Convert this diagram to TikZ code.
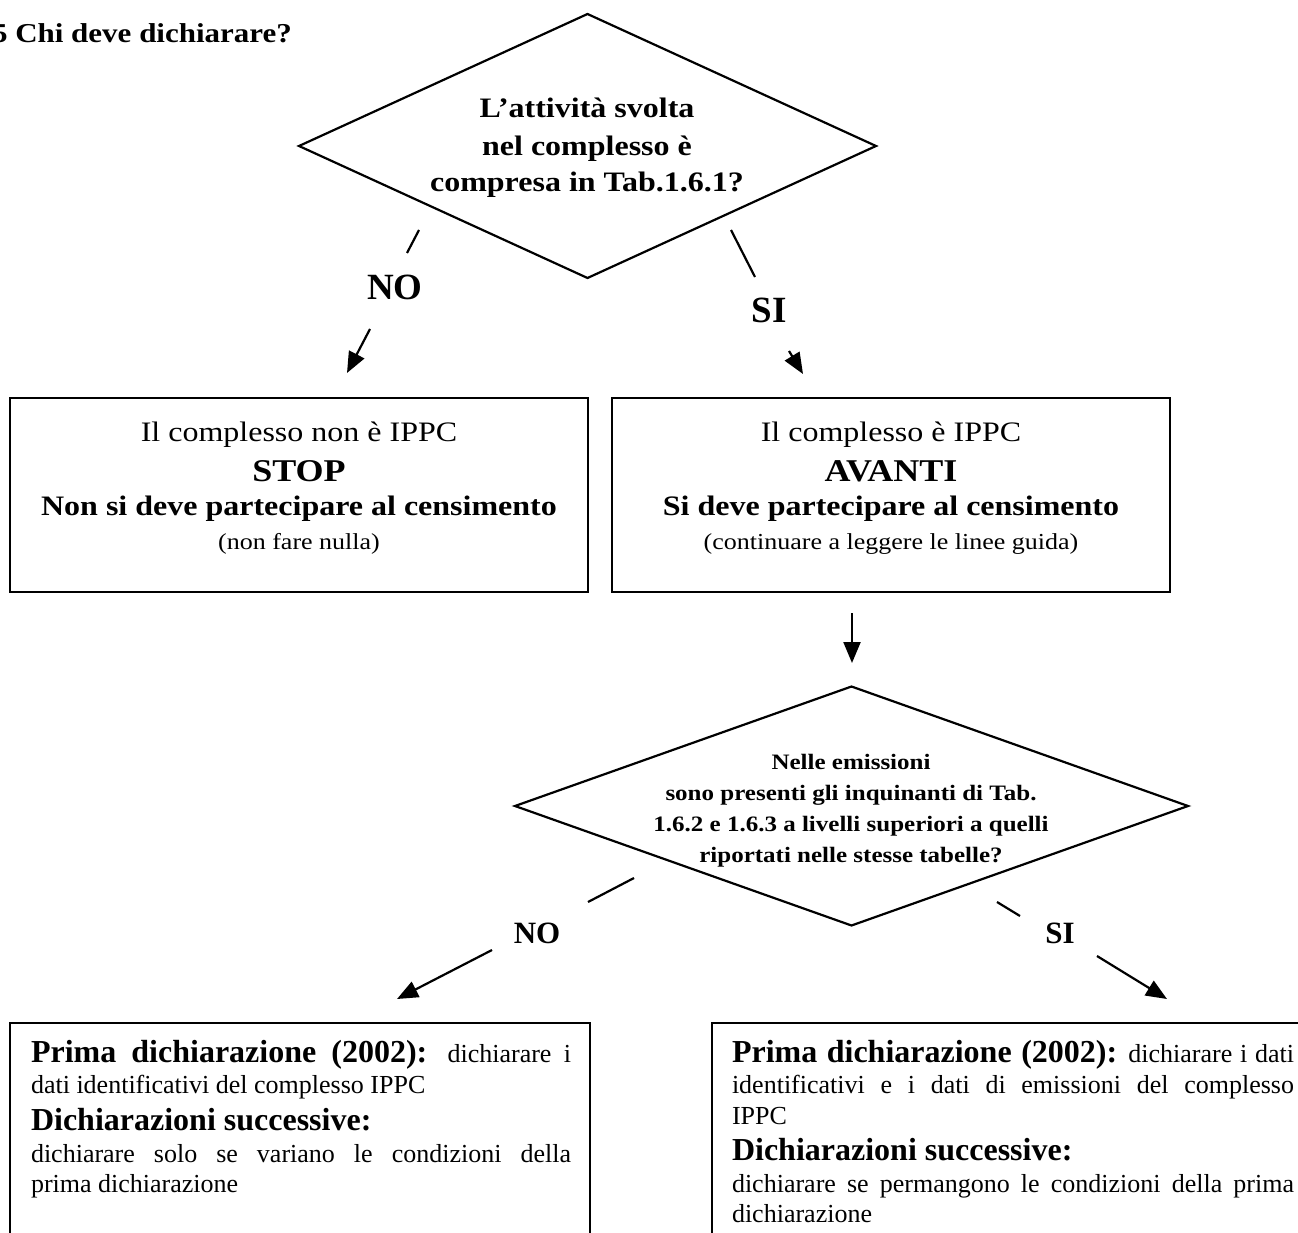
\documentclass[tikz,border=0pt]{standalone}
\usepackage{fontspec}
\usepackage{graphicx}
\setmainfont{Liberation Serif}
\usetikzlibrary{arrows.meta,shapes.geometric}
\newcommand\fszTitle{\normalfont\fontsize{31}{36}\selectfont\bfseries}
\newcommand\fszQ{\normalfont\fontsize{32}{38}\selectfont\bfseries}
\newcommand\fszQs{\normalfont\fontsize{25}{30}\selectfont\bfseries}
\newcommand\fszReg{\normalfont\fontsize{32}{38}\selectfont}
\newcommand\fszBig{\normalfont\fontsize{36}{42}\selectfont\bfseries}
\newcommand\fszSmall{\normalfont\fontsize{26}{31}\selectfont}
\newcommand\fszLab{\normalfont\fontsize{37}{44}\selectfont\bfseries}
\newcommand\fszLabs{\normalfont\fontsize{31}{37}\selectfont\bfseries}
\newcommand\fszHead{\normalfont\fontsize{32}{38}\selectfont\bfseries}
\newcommand\sqz[1]{\scalebox{1}[0.88]{#1}}
\begin{document}
\begin{tikzpicture}[x=1pt,y=-1pt,
  ln/.style={line width=2.2pt},
  tx/.style={inner sep=0pt,outer sep=0pt,anchor=base},
  txl/.style={inner sep=0pt,outer sep=0pt,anchor=base west},
  decision/.style={diamond,draw,ln,inner sep=0pt,outer sep=0pt},
  panel/.style={rectangle,draw,ln,inner sep=0pt,outer sep=0pt,minimum height=194pt},
  arr/.style={ln,-{Triangle[length=21pt,width=17pt]}},
  stub/.style={ln}
]
\useasboundingbox (0,0) rectangle (1298,1233);
\fill[white] (0,0) rectangle (1298,1233);

% title
\node[txl] (title) at (-8,43) {\sqz{\fszTitle 5 Chi deve dichiarare?}};

% first decision
\node[decision,minimum width=577pt,minimum height=264pt] (q1) at (587.5,146) {};
\node[tx] (q1a) at (587,118) {\sqz{\fszQ L’attività svolta}};
\node[tx] (q1b) at (587,156) {\sqz{\fszQ nel complesso è}};
\node[tx] (q1c) at (587,192) {\sqz{\fszQ compresa in Tab.1.6.1?}};

% first NO / SI
\coordinate (n1a) at (419,230);
\coordinate (n1b) at (407,253);
\coordinate (n1c) at (370,329);
\coordinate (n1d) at (347,373);
\draw[stub] (n1a) -- (n1b);
\node[tx] (no1) at (395,299) {\fszLab NO};
\draw[arr] (n1c) -- (n1d);

\coordinate (s1a) at (731,230);
\coordinate (s1b) at (755,277);
\coordinate (s1c) at (789,351);
\coordinate (s1d) at (803,374);
\draw[stub] (s1a) -- (s1b);
\node[tx] (si1) at (769,323) {\fszLab SI};
\draw[arr] (s1c) -- (s1d);

% boxes row 1
\node[panel,minimum width=578pt] (b1) at (299,495) {};
\node[tx] (b1a) at (299,441) {\sqz{\fszReg Il complesso non è IPPC}};
\node[tx] (b1b) at (299,481) {\sqz{\fszBig STOP}};
\node[tx] (b1c) at (299,515) {\sqz{\fszQ Non si deve partecipare al censimento}};
\node[tx] (b1d) at (299,549) {\sqz{\fszSmall (non fare nulla)}};

\node[panel,minimum width=558pt] (b2) at (891,495) {};
\node[tx] (b2a) at (891,441) {\sqz{\fszReg Il complesso è IPPC}};
\node[tx] (b2b) at (891,481) {\sqz{\fszBig AVANTI}};
\node[tx] (b2c) at (891,515) {\sqz{\fszQ Si deve partecipare al censimento}};
\node[tx] (b2d) at (891,549) {\sqz{\fszSmall (continuare a leggere le linee guida)}};

% vertical arrow
\coordinate (v1) at (852,613);
\coordinate (v2) at (852,663);
\draw[arr] (v1) -- (v2);

% second decision
\node[decision,minimum width=673pt,minimum height=239pt] (q2) at (851.5,806) {};
\node[tx] (q2a) at (851,769) {\sqz{\fszQs Nelle emissioni}};
\node[tx] (q2b) at (851,800) {\sqz{\fszQs sono presenti gli inquinanti di Tab.}};
\node[tx] (q2c) at (851,831) {\sqz{\fszQs 1.6.2 e 1.6.3 a livelli superiori a quelli}};
\node[tx] (q2d) at (851,862) {\sqz{\fszQs riportati nelle stesse tabelle?}};

% second NO / SI
\coordinate (n2a) at (634,878);
\coordinate (n2b) at (588,902);
\coordinate (n2c) at (492,950);
\coordinate (n2d) at (397,999);
\draw[stub] (n2a) -- (n2b);
\node[tx] (no2) at (537,943) {\fszLabs NO};
\draw[arr] (n2c) -- (n2d);

\coordinate (s2a) at (997,902);
\coordinate (s2b) at (1020,916);
\coordinate (s2c) at (1097,956);
\coordinate (s2d) at (1167,999);
\draw[stub] (s2a) -- (s2b);
\node[tx] (si2) at (1060,943) {\fszLabs SI};
\draw[arr] (s2c) -- (s2d);

% bottom boxes (open at the page edge)
\draw[ln] (10,1240) |- (590,1023) -- (590,1240);
\draw[ln] (712,1240) |- (1305,1023);

\node[txl] (c1a) at (31,1062) {\makebox[540pt][s]{\fszHead Prima dichiarazione (2002):\fszSmall{} dichiarare i}};
\node[txl] (c1b) at (31,1093) {\fszSmall dati identificativi del complesso IPPC};
\node[txl] (c1c) at (31,1130) {\fszHead Dichiarazioni successive:};
\node[txl] (c1d) at (31,1162) {\makebox[540pt][s]{\fszSmall dichiarare solo se variano le condizioni della}};
\node[txl] (c1e) at (31,1192) {\fszSmall prima dichiarazione};

\node[txl] (c2a) at (732,1062) {\makebox[562pt][s]{\fszHead Prima dichiarazione (2002):\fszSmall{} dichiarare i dati}};
\node[txl] (c2b) at (732,1093) {\makebox[562pt][s]{\fszSmall identificativi e i dati di emissioni del complesso}};
\node[txl] (c2c) at (732,1124) {\fszSmall IPPC};
\node[txl] (c2d) at (732,1160) {\fszHead Dichiarazioni successive:};
\node[txl] (c2e) at (732,1192) {\makebox[562pt][s]{\fszSmall dichiarare se permangono le condizioni della prima}};
\node[txl] (c2f) at (732,1222) {\fszSmall dichiarazione};
\end{tikzpicture}
\end{document}
